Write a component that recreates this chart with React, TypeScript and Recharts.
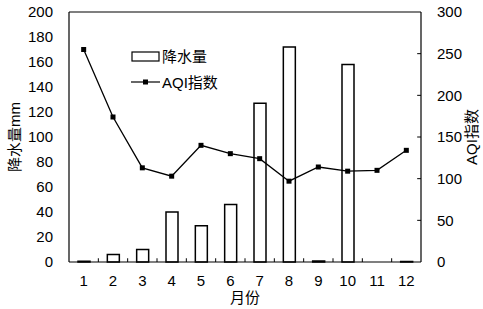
import {
  Bar,
  ComposedChart,
  Legend,
  Line,
  ReferenceLine,
  XAxis,
  YAxis,
} from "recharts";

const months = [1, 2, 3, 4, 5, 6, 7, 8, 9, 10, 11, 12];
const rainfall = [0.6, 6, 10, 40, 29, 46, 127, 172, 0.8, 158, 0, 0.4];
const aqi = [255, 174, 113, 103, 140, 130, 124, 97, 114, 109, 110, 134];
const leftTicks = [0, 20, 40, 60, 80, 100, 120, 140, 160, 180, 200];
const rightTicks = [0, 50, 100, 150, 200, 250, 300];
const boundaries = [1.5, 2.5, 3.5, 4.5, 5.5, 6.5, 7.5, 8.5, 9.5, 10.5, 11.5];

const data = months.map((m, i) => ({ m, rain: rainfall[i], aqi: aqi[i] }));

const FONT = "'Liberation Sans', Arial, 'Noto Sans CJK SC', sans-serif";
const tickStyle = { fill: "#000", fontSize: 15, fontFamily: FONT };

function SquareDot(props: any) {
  const { cx, cy } = props;
  if (cx == null || cy == null) return null;
  return <rect x={cx - 2.5} y={cy - 2.5} width={5} height={5} fill="#000" />;
}

function LegendBox() {
  return (
    <svg width={120} height={50} style={{ fontFamily: FONT, display: "block" }}>
      <rect x={1} y={5} width={27} height={9} fill="#fff" stroke="#000" strokeWidth={1.2} />
      <text x={31} y={15} fontSize={15} fill="#000">降水量</text>
      <line x1={0} y1={35} x2={29} y2={35} stroke="#000" strokeWidth={1.2} />
      <rect x={12} y={32.5} width={5} height={5} fill="#000" />
      <text x={31} y={41} fontSize={15} fill="#000">AQI指数</text>
    </svg>
  );
}

export default function App() {
  return (
    <div style={{ position: "fixed", left: 0, top: 0, width: 483, height: 309, background: "#fff" }}>
      <ComposedChart
        width={483}
        height={309}
        data={data}
        margin={{ top: 12, right: 0, left: 0, bottom: 0 }}
      >
        <XAxis
          dataKey="m"
          type="number"
          domain={[0.5, 12.5]}
          ticks={months}
          interval={0}
          allowDataOverflow
          height={47}
          tick={tickStyle}
          tickLine={false}
          tickMargin={7}
          axisLine={{ stroke: "#000", strokeWidth: 1.2 }}
          label={{
            content: () => (
              <text x={245} y={303} textAnchor="middle" fontSize={15} fontFamily={FONT} fill="#000">
                月份
              </text>
            ),
          }}
        />
        <YAxis
          yAxisId="left"
          domain={[0, 200]}
          ticks={leftTicks}
          interval={0}
          width={69}
          tick={tickStyle}
          tickLine={false}
          tickMargin={10}
          axisLine={{ stroke: "#000", strokeWidth: 1.2 }}
          label={{
            content: () => (
              <text
                x={0}
                y={0}
                transform="translate(20,137) rotate(-90)"
                textAnchor="middle"
                fontSize={15}
                fontFamily={FONT}
                fill="#000"
              >
                降水量mm
              </text>
            ),
          }}
        />
        <YAxis
          yAxisId="right"
          orientation="right"
          domain={[0, 300]}
          ticks={rightTicks}
          interval={0}
          width={62}
          tick={tickStyle}
          tickLine={false}
          tickMargin={10}
          axisLine={{ stroke: "#000", strokeWidth: 1.2 }}
          label={{
            content: () => (
              <text
                x={0}
                y={0}
                transform="translate(477,137) rotate(-90)"
                textAnchor="middle"
                fontSize={15}
                fontFamily={FONT}
                fill="#000"
              >
                AQI指数
              </text>
            ),
          }}
        />
        <ReferenceLine yAxisId="left" y={200} stroke="#000" strokeWidth={1.2} />
        {boundaries.map((b) => (
          <ReferenceLine
            key={"xb" + b}
            yAxisId="left"
            segment={[{ x: b, y: 0 }, { x: b, y: 3 }]}
            stroke="#000"
            strokeWidth={1}
          />
        ))}
        {rightTicks.slice(1, -1).map((v) => (
          <ReferenceLine
            key={"rt" + v}
            yAxisId="right"
            segment={[{ x: 12.37, y: v }, { x: 12.5, y: v }]}
            stroke="#000"
            strokeWidth={1}
          />
        ))}
        <Legend
          layout="horizontal"
          verticalAlign="middle"
          align="center"
          wrapperStyle={{ left: 131, top: 47, width: 120, height: 50 }}
          content={() => <LegendBox />}
        />
        <Bar
          yAxisId="left"
          dataKey="rain"
          barSize={12}
          fill="#fff"
          stroke="#000"
          strokeWidth={1.5}
          isAnimationActive={false}
        />
        <Line
          yAxisId="right"
          dataKey="aqi"
          stroke="#000"
          strokeWidth={1.3}
          dot={<SquareDot />}
          activeDot={false}
          isAnimationActive={false}
        />
      </ComposedChart>
    </div>
  );
}
